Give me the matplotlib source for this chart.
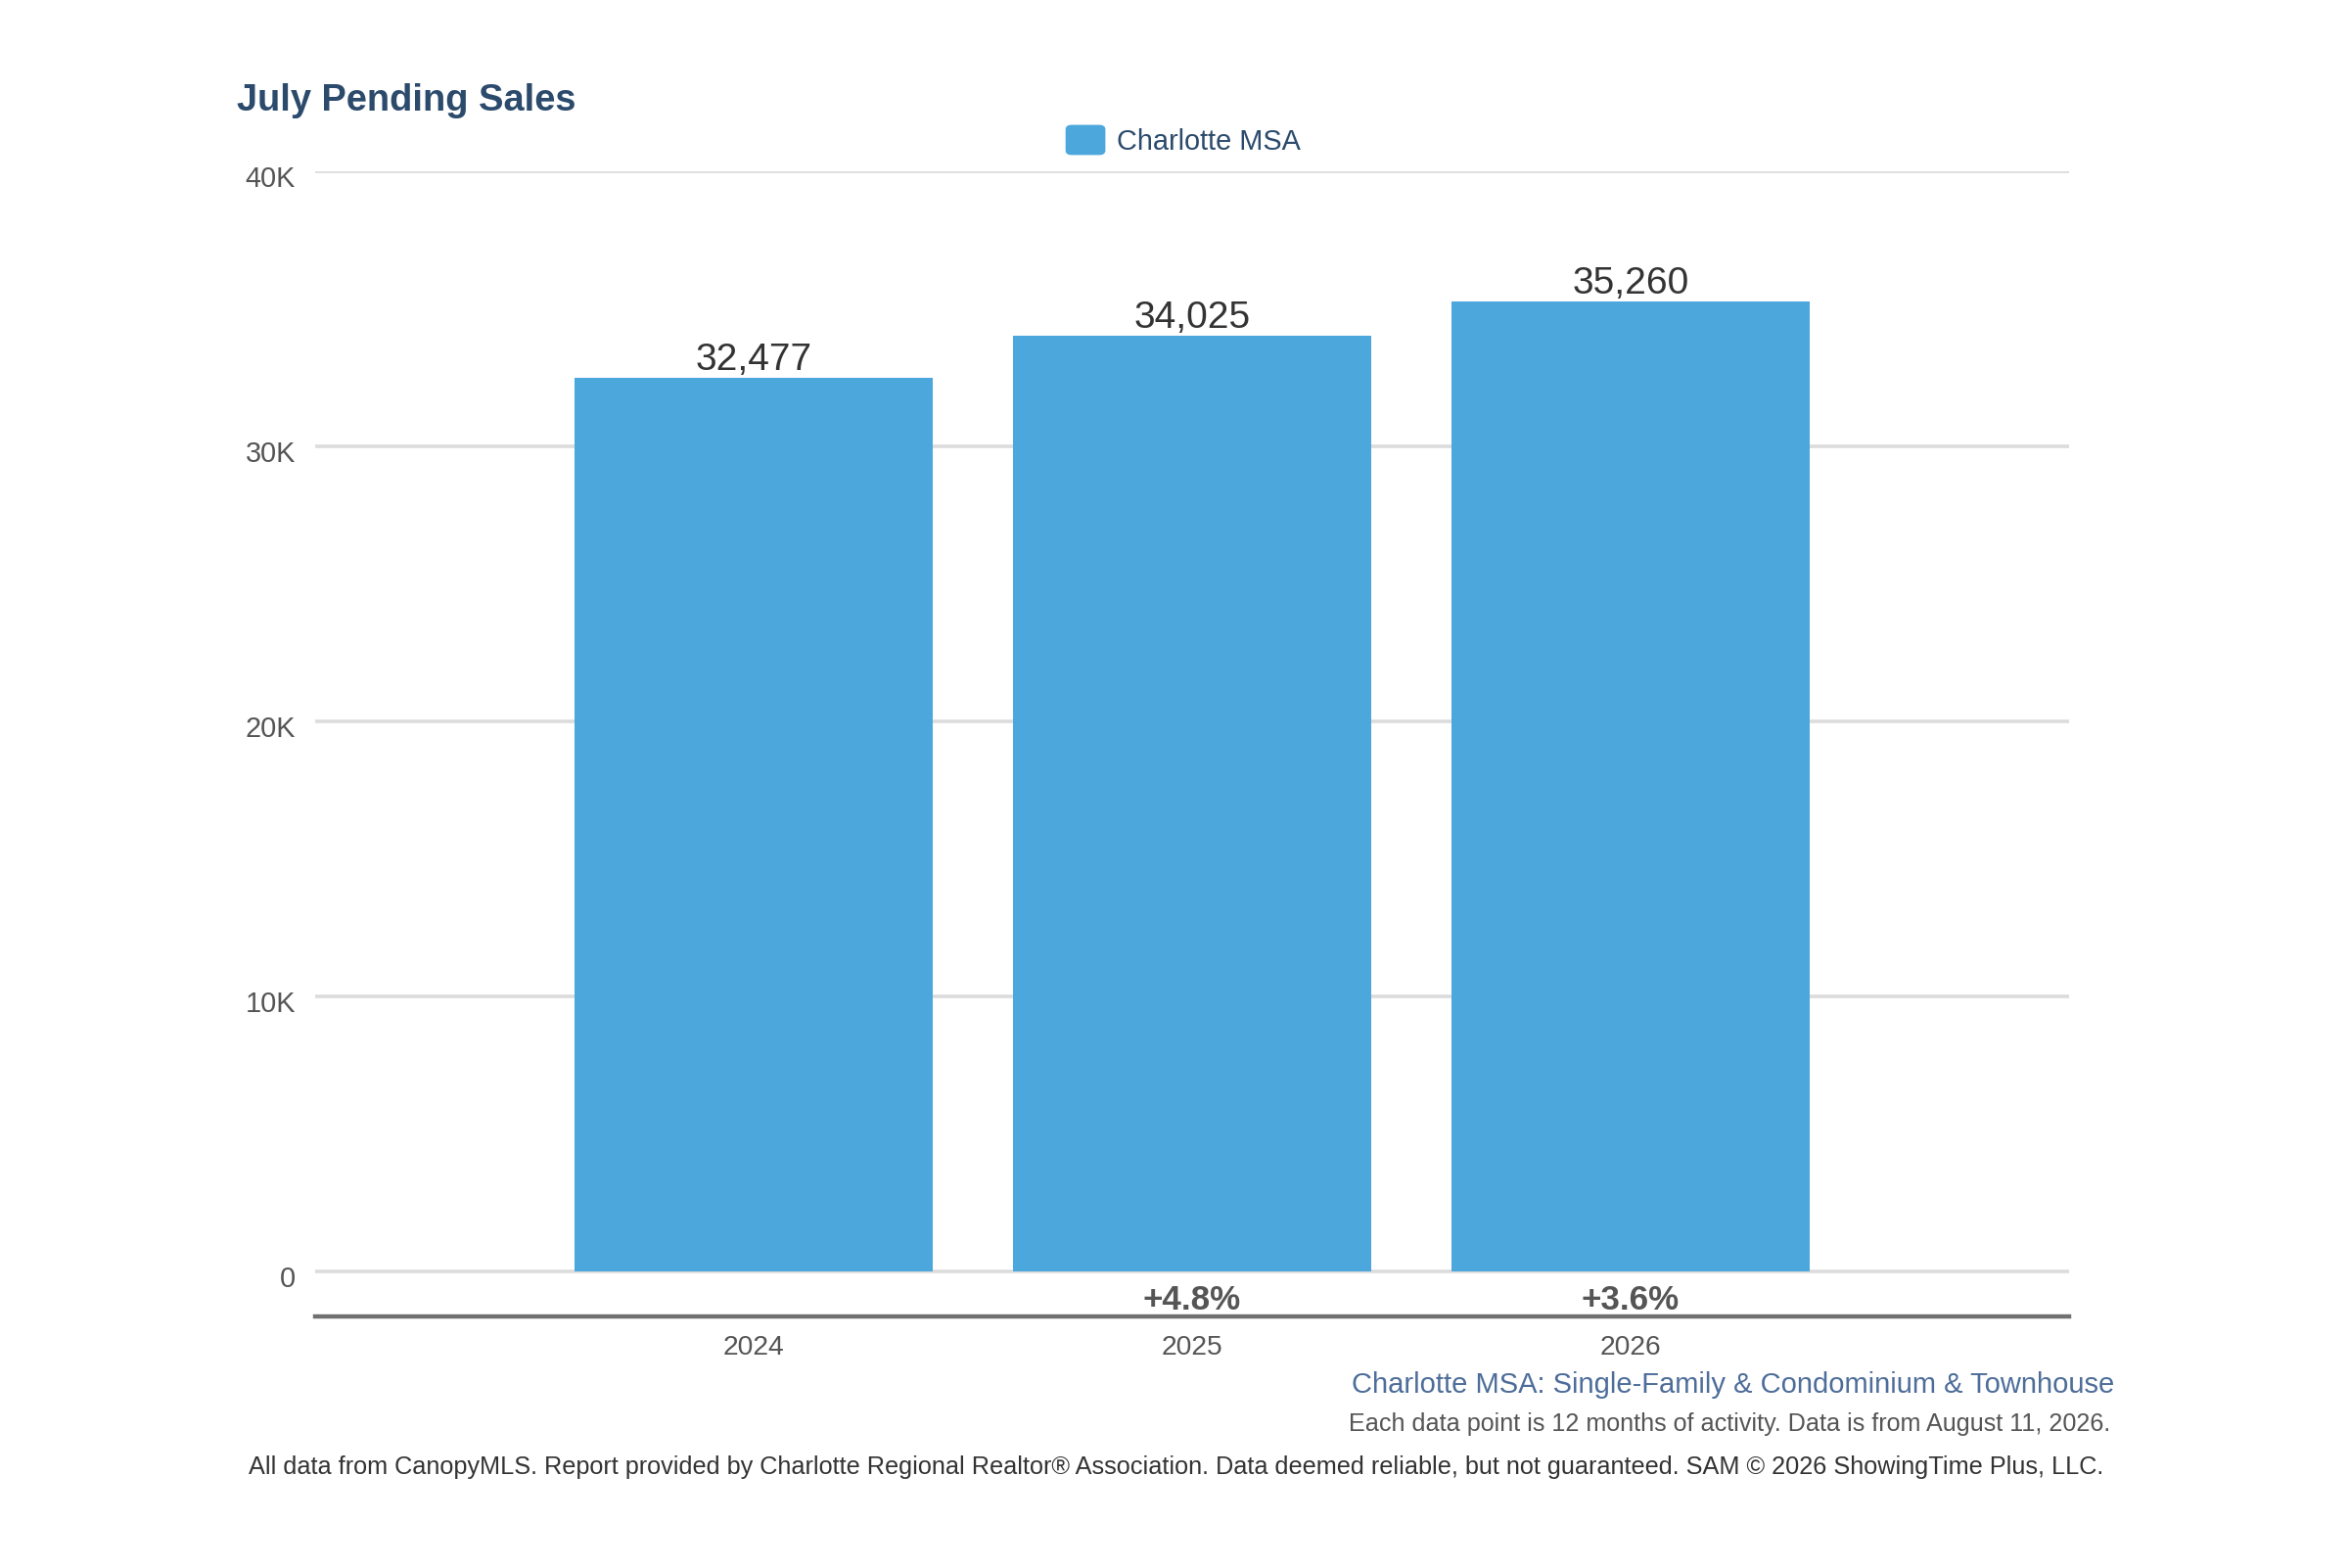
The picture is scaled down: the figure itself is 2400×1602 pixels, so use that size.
import matplotlib
matplotlib.use("Agg")
import matplotlib.pyplot as plt
import matplotlib.transforms as mtransforms
from matplotlib.patches import FancyBboxPatch

plt.rcParams['font.family'] = ['Liberation Sans', 'DejaVu Sans']

# data
years = ['2024', '2025', '2026']
pending = [32477, 34025, 35260]
changes = ['', '+4.8%', '+3.6%']
yticks = [0, 10000, 20000, 30000, 40000]
ytick_labels = ['0', '10K', '20K', '30K', '40K']

bar_color = '#4ca7dc'
navy = '#2b4a6c'

fig = plt.figure(figsize=(12, 8.01), dpi=200)
ax = fig.add_axes([0.1342, 0.1604, 0.8808 - 0.1342, 0.8908 - 0.1604])

x = list(range(len(years)))
ax.bar(x, pending, width=0.815, color=bar_color, zorder=3)

# value labels above bars
for xi, v in zip(x, pending):
    ax.annotate(f'{v:,}', (xi, v), xytext=(0, 3), textcoords='offset points',
                ha='center', va='baseline', fontsize=14, color='#333333')

# year-over-year change under the bars
for xi, c in zip(x, changes):
    if c:
        ax.text(xi, -1370, c, ha='center', va='baseline', fontsize=12.6,
                fontweight='bold', color='#555555')

ax.set_xlim(-1, 3)
ax.set_ylim(-1636, 40000)
ax.set_yticks(yticks)
ax.set_yticklabels(ytick_labels)
ax.set_xticks(x)
ax.set_xticklabels(years)

for t in yticks:
    ax.axhline(t, color='#dcdcdc', lw=1.3, zorder=1)

for s in ['top', 'right', 'left']:
    ax.spines[s].set_visible(False)
ax.spines['bottom'].set_color('#707070')
ax.spines['bottom'].set_linewidth(1.6)
ax.tick_params(axis='y', length=0, pad=7.2, labelsize=10.4, colors='#555555')
ax.tick_params(axis='x', length=0, pad=7, labelsize=10.2, colors='#555555')
shift = mtransforms.ScaledTranslation(0, -0.04, fig.dpi_scale_trans)
for lbl in ax.get_yticklabels():
    lbl.set_verticalalignment('center')
    lbl.set_transform(lbl.get_transform() + shift)

fig.text(0.1008, 0.9295, 'July Pending Sales', fontsize=13.7, fontweight='bold',
         color=navy, va='baseline', ha='left')

# legend
fig.patches.append(FancyBboxPatch((0.4542, 0.902), 0.0158, 0.0175,
                                  boxstyle='round,pad=0,rounding_size=0.002',
                                  transform=fig.transFigure, color=bar_color))
fig.text(0.4754, 0.9095, 'Charlotte MSA', fontsize=10.4, color=navy, va='center', ha='left')

fig.text(0.9, 0.1117, 'Charlotte MSA: Single-Family & Condominium & Townhouse',
         fontsize=10.5, color='#4d6d9a', ha='right', va='baseline')
fig.text(0.8983, 0.0874, 'Each data point is 12 months of activity. Data is from August 11, 2026.',
         fontsize=9.05, color='#555555', ha='right', va='baseline')
fig.text(0.5006, 0.0599, 'All data from CanopyMLS. Report provided by Charlotte Regional Realtor\u00ae '
         'Association. Data deemed reliable, but not guaranteed. SAM \u00a9 2026 ShowingTime Plus, LLC.',
         fontsize=9.1, color='#333333', ha='center', va='baseline')

fig.savefig('out.png', dpi=200, facecolor='white')
